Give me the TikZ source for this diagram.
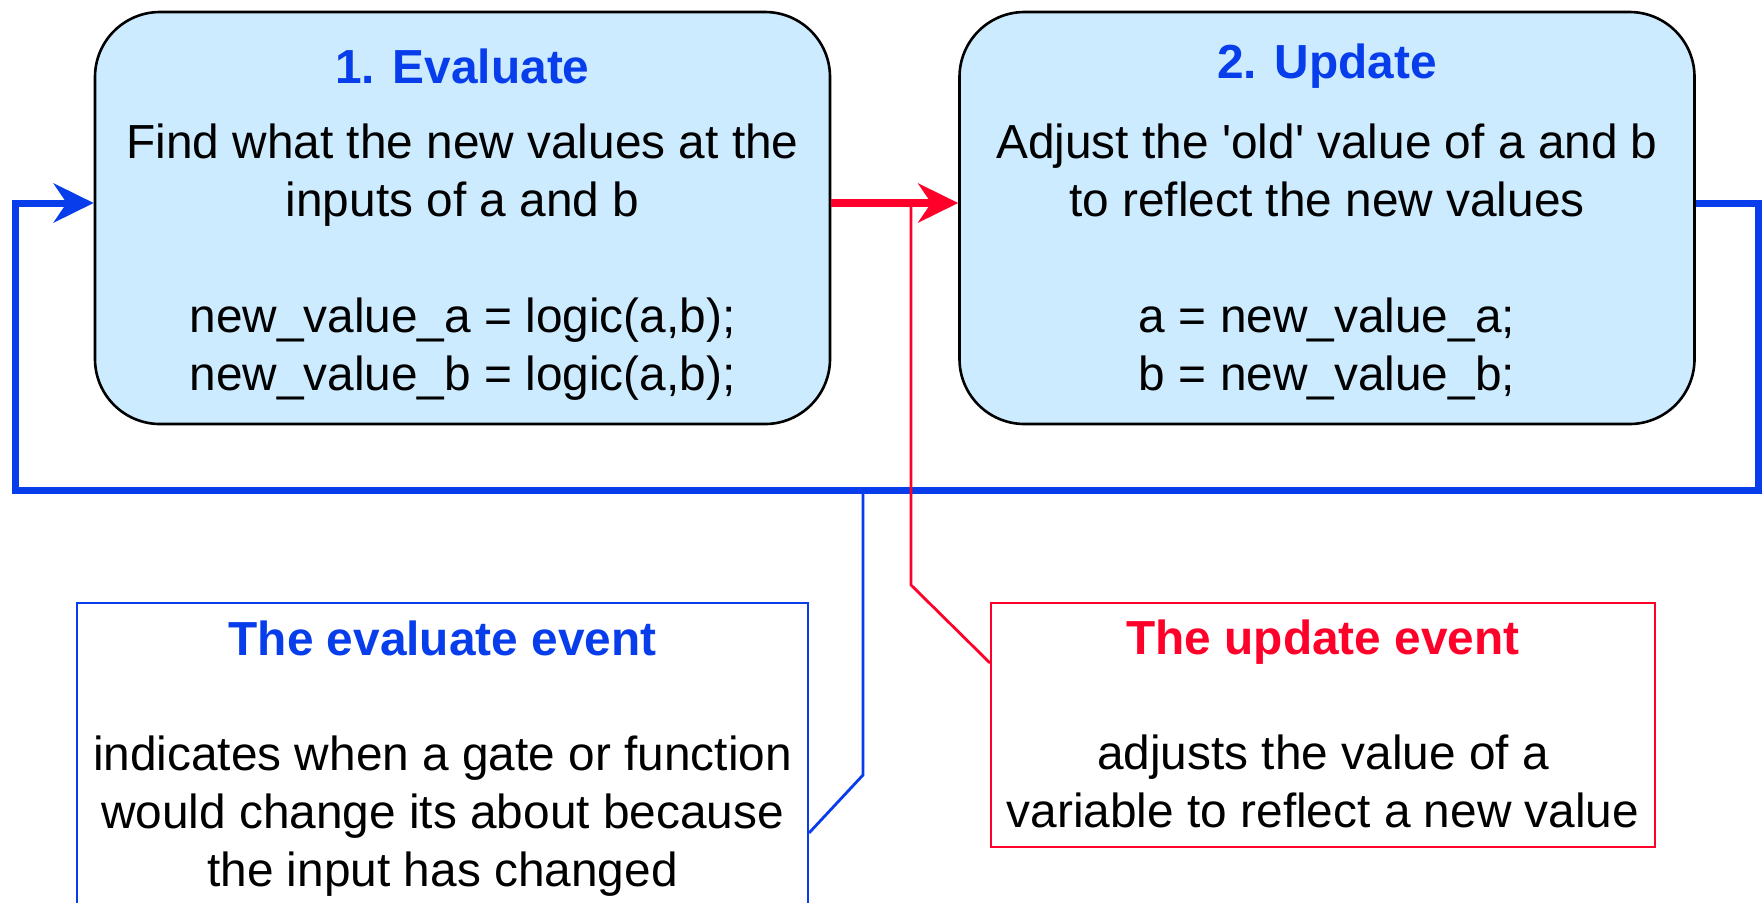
\documentclass[tikz,border=0pt]{standalone}
\usepackage{fontspec}
\setmainfont{Liberation Sans}
\usetikzlibrary{arrows.meta,calc}
\definecolor{flowblue}{RGB}{8,61,235}
\definecolor{flowred}{RGB}{255,0,43}
\definecolor{stagefill}{RGB}{204,235,255}

\begin{document}
\begin{tikzpicture}[x=0.5pt,y=-0.5pt,
  stage/.style={draw=black, line width=1.3pt, fill=stagefill, rounded corners=32.5pt,
    minimum width=367.5pt, minimum height=206pt, inner sep=0pt},
  note/.style={draw=#1, line width=1pt, fill=white, inner sep=0pt},
  txt/.style={align=center, font=\fontsize{23.9pt}{29pt}\selectfont, inner sep=0pt},
  head/.style={align=center, font=\fontsize{23.9pt}{29pt}\selectfont\bfseries, text=#1, inner sep=0pt},
  bigtip/.style={-{Stealth[length=20pt,width=19.5pt,inset=6.5pt]}},
  loopline/.style={draw=flowblue, line width=3.5pt, bigtip},
  passline/.style={draw=flowred, line width=3.7pt, bigtip},
  callout/.style={draw=#1, line width=1.4pt}
]
\clip (0,0) rectangle (1762,902);

% the two stages of the simulation cycle
\node[stage] (eval) at (462.5,218) {};
\node[stage] (upd) at (1327,218) {};

\node[head=flowblue] (evalhead) at (462.5,66) {1. Evaluate};
\node[txt] (evaltext) at (462.5,262) {Find what the new values at the\\inputs of a and b\\[29pt]new\_value\_a = logic(a,b);\\new\_value\_b = logic(a,b);};

\node[head=flowblue] (updhead) at (1327,66) {2. Update};
\node[txt] (updtext) at (1327,262) {Adjust the \textquotesingle old\textquotesingle{} value of a and b\\to reflect the new values\\[29pt]a = new\_value\_a;\\b = new\_value\_b;};

% explanatory notes
\node[note=flowblue, minimum width=365.5pt, minimum height=163.5pt] (evalnote) at (442.5,766.5) {};
\node[note=flowred, minimum width=332pt, minimum height=122pt] (updnote) at (1323,725) {};

\node[head=flowblue] (evalnotehead) at (442.5,638) {The evaluate event};
\node[txt] (evalnotetext) at (442.5,816) {indicates when a gate or function\\would change its about because\\the input has changed};

\node[head=flowred] (updnotehead) at (1323,642.5) {The update event};
\node[txt] (updnotetext) at (1323,781) {adjusts the value of a\\variable to reflect a new value};

% connection points
\coordinate (evalout) at ([yshift=7.5pt]eval.east);
\coordinate (evalin) at ([yshift=7.5pt]eval.west);
\coordinate (updin) at ([yshift=7.5pt]upd.west);
\coordinate (updout) at ([yshift=7.5pt]upd.east);
\coordinate (loopR) at (1758,490);
\coordinate (loopL) at (15,490);

% evaluate -> update, and the loop back
\draw[passline] (evalout) -- (updin);
\draw[loopline] (updout) -| (loopR) -- (loopL) |- (evalin);

% callout leaders
\coordinate (redfoot) at (911,0 |- evalout);
\coordinate (redbend) at (911,585);
\coordinate (redend) at (updnote.west |- 0,663);
\draw[callout=flowred] (redfoot) -- (redbend) -- (redend);

\coordinate (bluefoot) at (863,490);
\coordinate (bluebend) at (863,775);
\coordinate (blueend) at (evalnote.east |- 0,833);
\draw[callout=flowblue] (bluefoot) -- (bluebend) -- (blueend);
\end{tikzpicture}
\end{document}
